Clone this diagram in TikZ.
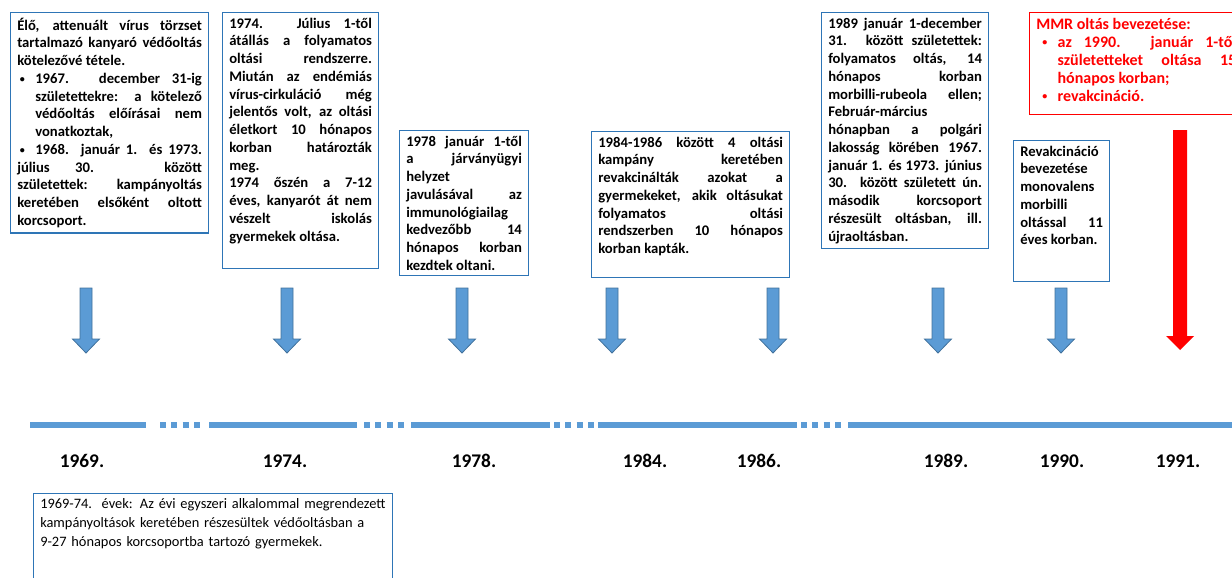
\documentclass[tikz,border=0pt]{standalone}
\usepackage{fontspec}
\setmainfont{Carlito}

\definecolor{tlblue}{RGB}{91,155,213}
\definecolor{tledge}{RGB}{65,113,156}
\definecolor{boxblue}{RGB}{46,117,182}

% bullet item: #1 hanging indent, #2 bullet offset
\newcommand{\bpoint}[2]{\par\noindent\hangindent=#1\hangafter=1\makebox[#1][l]{\hspace{#2}\raisebox{0.15ex}{\fontsize{7.5}{7.5}\selectfont\textbullet}}}
\newcommand{\boxfont}{\fontsize{11}{13.3}\selectfont\bfseries\hyphenpenalty=10000\exhyphenpenalty=10000\tolerance=10000\hbadness=10000}
\newcommand{\redfont}{\fontsize{12}{13.5}\selectfont\bfseries\hyphenpenalty=10000\exhyphenpenalty=10000\tolerance=10000\hbadness=10000}
\newcommand{\notefont}{\fontsize{10.8}{13.9}\selectfont\hyphenpenalty=10000}
\newcommand{\padline}[1]{\par\vskip#1\hrule height0pt\relax}

\tikzset{
  infobox/.style={draw=boxblue, line width=0.9pt, anchor=north west, align=justify,
    inner xsep=5pt, inner ysep=4pt, font=\boxfont, text width=#1},
  redbox/.style={infobox=#1, draw=red, text=red, font=\redfont},
  yearlbl/.style={font=\fontsize{14.5}{17}\selectfont\bfseries},
  tlline/.style={draw=tlblue, line width=4.5pt},
  tldots/.style={tlline, dash pattern=on 4.5pt off 4pt},
  downarrow/.style={fill=tlblue, draw=tledge, line width=0.6pt},
}

\begin{document}
\begin{tikzpicture}[x=0.75pt,y=-0.75pt]
  \useasboundingbox (0,0) rectangle (1232,578);
  \clip (0,0) rectangle (1232,578);

  % Text boxes above the timeline
  \node[infobox=138.5pt] (b1969) at (10,12) {%
    Élő, attenuált vírus törzset\linebreak tartalmazó kanyaró védőoltás\linebreak kötelezővé tétele.
    \bpoint{13.5pt}{2pt}1967. december 31-ig\linebreak születettekre: a kötelező\linebreak védőoltás előírásai nem\linebreak vonatkoztak,
    \bpoint{13.5pt}{2pt}1968. január 1. és 1973.\linebreak július 30. között\linebreak születettek: kampányoltás\linebreak keretében elsőként oltott\linebreak korcsoport.};
  \node[infobox=107pt] (b1974) at (222,12) {%
    1974. Július 1-től\linebreak átállás a folyamatos\linebreak oltási rendszerre.\linebreak Miután az endémiás\linebreak vírus-cirkuláció még\linebreak jelentős volt, az oltási\linebreak életkort 10 hónapos\linebreak korban határozták\linebreak meg.\par
    1974 őszén a 7-12\linebreak éves, kanyarót át nem\linebreak vészelt iskolás\linebreak gyermekek oltása.\padline{15pt}};
  \node[infobox=86.75pt] (b1978) at (399,130) {%
    1978 január 1-től\linebreak a járványügyi\linebreak helyzet\linebreak javulásával az\linebreak immunológiailag\linebreak kedvezőbb 14\linebreak hónapos korban\linebreak kezdtek oltani.};
  \node[infobox=138.5pt] (b1984) at (591,131) {%
    1984-1986 között 4 oltási\linebreak kampány keretében\linebreak revakcinálták azokat a\linebreak gyermekeket, akik oltásukat\linebreak folyamatos oltási\linebreak rendszerben 10 hónapos\linebreak korban kapták.\padline{12pt}};
  \node[infobox=115.25pt] (b1989) at (821,12) {%
    1989 január 1-december\linebreak 31. között születettek:\linebreak folyamatos oltás, 14\linebreak hónapos korban\linebreak morbilli-rubeola ellen;\linebreak Február-március\linebreak hónapban a polgári\linebreak lakosság körében 1967.\linebreak január 1. és 1973. június\linebreak 30. között született ún.\linebreak második korcsoport\linebreak részesült oltásban, ill.\linebreak újraoltásban.};
  \node[infobox=62pt] (b1990) at (1013,140) {%
    Revakcináció\linebreak bevezetése\linebreak monovalens\linebreak morbilli\linebreak oltással 11\linebreak éves korban.\padline{23.5pt}};
  \node[redbox=150pt] (b1991) at (1029,12) {%
    MMR oltás bevezetése:
    \bpoint{16pt}{4.5pt}az 1990. január 1-től\linebreak születetteket oltása 15\linebreak hónapos korban;
    \bpoint{16pt}{4.5pt}revakcináció.\padline{6pt}};

  % Box below the timeline
  \node[infobox=259pt, align=left, font=\notefont] (b6974) at (33,493) {%
    1969-74.\ \ évek: Az évi egyszeri alkalommal megrendezett\\
    kampányoltások keretében részesültek védőoltásban a\\
    9-27 hónapos korcsoportba tartozó gyermekek.\padline{40pt}};

  % Arrows down to the timeline
  \foreach \x in {86,287,462,612,773,938,1061}
    \draw[downarrow] (\x-6,288) -- (\x+6,288) -- (\x+6,339) -- (\x+13.5,339)
      -- (\x,353) -- (\x-13.5,339) -- (\x-6,339) -- cycle;
  \fill[red] (1173,130) -- (1187,130) -- (1187,336) -- (1194,336)
    -- (1180,350) -- (1166,336) -- (1173,336) -- cycle;

  % Timeline
  \draw[tlline] (30,425) -- (146,425);
  \draw[tldots] (160,425) -- (202,425);
  \draw[tlline] (209,425) -- (357,425);
  \draw[tldots] (364,425) -- (406,425);
  \draw[tlline] (411,425) -- (550,425);
  \draw[tldots] (554,425) -- (596,425);
  \draw[tlline] (598,425) -- (797,425);
  \draw[tldots] (801,425) -- (843,425);
  \draw[tlline] (848,425) -- (1232,425);

  % Years
  \foreach \yr/\x in {1969/82,1974/285,1978/474,1984/645,1986/759,1989/946,1990/1062,1991/1178}
    \node[yearlbl] (y\yr) at (\x,461) {\yr.};
\end{tikzpicture}
\end{document}
